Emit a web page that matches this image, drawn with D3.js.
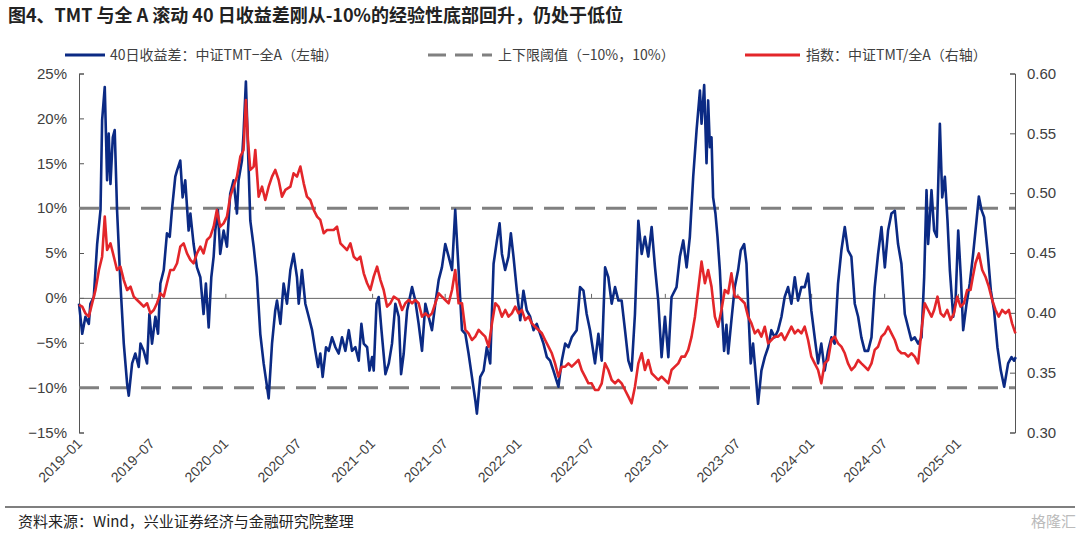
<!DOCTYPE html>
<html><head><meta charset="utf-8">
<script src="https://cdn.jsdelivr.net/npm/d3@7"></script>
<style>body{margin:0;background:#fff}svg{font-family:"Noto Sans CJK SC","Liberation Sans",sans-serif}</style>
</head><body><svg id="c" width="1080" height="534"></svg>
<script>
// decimal years
const spreadDates=[2019.00,2019.022,2019.044,2019.067,2019.078,2019.101,2019.124,2019.147,2019.158,2019.176,2019.192,2019.203,2019.215,2019.231,2019.244,2019.260,2019.283,2019.306,2019.329,2019.340,2019.363,2019.385,2019.408,2019.420,2019.442,2019.465,2019.481,2019.499,2019.522,2019.540,2019.556,2019.579,2019.601,2019.620,2019.635,2019.658,2019.670,2019.692,2019.708,2019.726,2019.749,2019.761,2019.783,2019.806,2019.829,2019.851,2019.867,2019.886,2019.904,2019.920,2019.931,2019.949,2019.965,2019.988,2020.011,2020.033,2020.056,2020.079,2020.090,2020.113,2020.124,2020.140,2020.154,2020.170,2020.193,2020.215,2020.238,2020.261,2020.284,2020.295,2020.318,2020.340,2020.352,2020.375,2020.397,2020.420,2020.443,2020.465,2020.488,2020.500,2020.522,2020.545,2020.568,2020.591,2020.613,2020.632,2020.647,2020.663,2020.686,2020.704,2020.727,2020.750,2020.772,2020.795,2020.818,2020.841,2020.863,2020.886,2020.909,2020.927,2020.943,2020.966,2020.982,2021.000,2021.011,2021.030,2021.045,2021.064,2021.091,2021.114,2021.136,2021.159,
2021.182,2021.198,2021.216,2021.239,2021.273,2021.295,2021.318,2021.341,2021.364,2021.386,2021.409,2021.432,2021.455,2021.477,2021.500,2021.523,2021.546,2021.568,2021.591,2021.614,2021.637,2021.659,2021.682,2021.705,2021.716,2021.739,2021.762,2021.784,2021.807,2021.830,2021.853,2021.871,2021.887,2021.909,2021.932,2021.948,2021.966,2021.989,2022.012,2022.034,2022.057,2022.080,2022.103,2022.125,2022.148,2022.171,2022.194,2022.216,2022.239,2022.273,2022.296,2022.319,2022.341,2022.364,2022.398,2022.421,2022.444,2022.466,2022.489,2022.523,2022.546,2022.569,2022.592,2022.614,2022.637,2022.660,2022.683,2022.705,2022.728,2022.751,2022.773,2022.796,2022.819,2022.842,2022.864,2022.887,2022.910,2022.933,2022.955,2022.978,2023.001,2023.024,2023.046,2023.080,2023.103,2023.126,2023.149,2023.171,2023.194,2023.217,2023.240,
2023.251,2023.269,2023.285,2023.296,2023.308,2023.319,2023.330,2023.346,2023.360,2023.376,2023.387,2023.405,2023.421,2023.433,2023.455,2023.478,2023.501,2023.519,2023.542,2023.558,2023.569,2023.587,2023.603,2023.619,2023.637,2023.660,2023.683,2023.706,2023.728,2023.751,2023.774,2023.797,2023.819,2023.842,2023.865,2023.888,2023.910,2023.933,2023.956,2023.979,2024.001,2024.024,2024.047,2024.069,2024.092,2024.115,2024.138,2024.160,2024.183,2024.206,2024.229,2024.251,2024.274,2024.297,2024.320,2024.342,2024.365,2024.388,2024.411,2024.433,2024.456,2024.479,2024.502,2024.524,2024.547,2024.570,2024.592,2024.615,2024.638,2024.661,2024.683,2024.706,2024.729,2024.752,2024.770,2024.786,2024.797,2024.820,2024.838,2024.856,2024.877,2024.893,2024.911,2024.929,2024.945,2024.968,2024.984,2025.002,2025.020,2025.036,2025.059,2025.081,2025.104,2025.127,2025.143,2025.161,2025.179,2025.202,2025.225,2025.247,2025.270,2025.293,2025.316,2025.343,2025.366,2025.384,2025.395];
const spreadValues=[-0.65,-4.0,-2.1,-2.9,-0.65,0.1,6.0,9.8,19.8,23.5,13.1,18.3,12.7,17.9,18.7,9.8,1.6,-5.1,-9.6,-10.9,-7.3,-6.2,-7.7,-5.1,-5.9,-7.3,-1.8,-5.1,-2.1,-4.0,1.6,3.1,7.2,6.8,9.8,13.5,14.2,15.3,11.2,13.1,7.5,9.4,6.0,3.4,2.3,-1.8,1.6,-3.3,2.3,4.6,7.5,9.8,4.9,7.5,5.7,11.6,13.1,9.4,13.1,15.3,18.3,24.1,16.8,8.6,5.7,2.3,-4.0,-7.3,-9.9,-11.2,-5.1,-1.4,-0.3,-2.9,1.6,-0.65,3.1,4.9,2.3,-0.65,3.1,-0.65,-2.1,-3.6,-5.9,-7.7,-6.2,-8.8,-5.5,-5.9,-4.4,-5.5,-6.2,-4.4,-5.9,-3.6,-5.9,-5.5,-7.0,-2.9,-5.1,-5.5,-8.1,-6.6,-8.1,-0.65,0.1,-3.6,-8.5,-7.3,-5.1,-0.65,
-2.1,-8.5,-6.2,-1.4,1.2,-0.3,-2.9,-5.9,-0.65,-2.1,-3.6,-0.65,2.0,3.4,6.0,4.6,3.1,9.8,3.1,-3.6,-4.0,-6.2,-8.8,-11.4,-12.9,-8.8,-8.1,-5.5,-7.3,3.8,6.4,8.3,4.9,3.1,4.6,7.2,4.6,0.8,-2.5,0.8,-1.4,-2.1,-3.6,-2.9,-4.0,-5.1,-6.6,-7.0,-8.1,-9.9,-7.0,-5.1,-5.5,-4.4,-3.6,1.2,0.8,-1.8,-3.6,-7.3,-4.0,-7.0,3.4,2.3,-0.65,1.2,-0.3,-0.3,-3.6,-7.0,-8.1,-1.8,8.6,4.9,6.8,4.6,7.9,3.4,-0.3,-6.6,-2.1,-6.6,0.1,1.2,4.6,6.4,3.4,6.8,13.5,18.7,23.1,
19.4,23.7,15.0,22.0,16.8,17.9,11.2,9.4,6.8,3.1,-0.65,-5.9,-3.0,-6.2,-2.5,1.2,3.1,5.3,6.0,3.8,-0.65,-7.3,-5.1,-8.1,-11.8,-8.1,-6.6,-5.5,-3.6,-4.4,-3.6,-2.1,0.1,1.2,-0.65,2.3,-0.3,1.2,1.2,2.7,-1.4,-4.4,-7.3,-5.1,-8.1,-5.9,-4.4,-5.1,1.6,5.3,7.9,5.3,4.6,-0.65,-2.1,-4.4,-5.9,-5.9,-4.4,1.2,4.9,7.9,3.4,7.5,9.4,9.7,6.0,3.8,-1.8,-3.3,-4.7,-4.4,-5.1,-4.4,2.3,12.0,6.0,12.0,7.5,6.8,19.4,11.2,13.5,8.6,3.1,-2.1,-0.3,7.5,2.3,-3.6,-0.65,1.6,4.9,8.6,11.3,9.8,9.0,5.3,0.8,-1.4,-5.5,-8.1,-9.9,-7.3,-6.6,-7.0,-6.6,-6.2];
const indexDates=[2019.00,2019.022,2019.044,2019.067,2019.090,2019.113,2019.136,2019.158,2019.176,2019.192,2019.215,2019.238,2019.260,2019.283,2019.306,2019.329,2019.352,2019.374,2019.397,2019.420,2019.442,2019.465,2019.488,2019.511,2019.533,2019.556,2019.579,2019.601,2019.624,2019.647,2019.670,2019.692,2019.715,2019.738,2019.761,2019.783,2019.806,2019.829,2019.851,2019.874,2019.897,2019.920,2019.942,2019.965,2019.988,2020.011,2020.033,2020.056,2020.079,2020.102,2020.124,2020.140,2020.154,2020.170,2020.193,2020.204,2020.227,2020.250,2020.272,2020.295,2020.318,2020.340,2020.363,2020.386,2020.409,2020.443,2020.465,2020.488,2020.511,2020.534,2020.556,2020.579,2020.602,2020.625,2020.647,2020.670,2020.693,2020.716,2020.738,2020.761,2020.784,2020.806,2020.829,2020.852,2020.875,2020.897,2020.920,2020.943,2020.966,2020.988,2021.011,2021.034,2021.057,2021.079,2021.102,2021.125,2021.148,
2021.182,2021.205,2021.227,2021.250,2021.273,2021.295,2021.318,2021.341,2021.364,2021.386,2021.409,2021.432,2021.455,2021.477,2021.500,2021.523,2021.546,2021.568,2021.591,2021.614,2021.637,2021.659,2021.682,2021.705,2021.728,2021.750,2021.773,2021.796,2021.819,2021.842,2021.864,2021.887,2021.910,2021.932,2021.955,2021.978,2022.001,2022.023,2022.046,2022.069,2022.091,2022.114,2022.137,2022.160,2022.182,2022.205,2022.228,2022.250,2022.273,2022.296,2022.319,2022.341,2022.364,2022.387,2022.410,2022.432,2022.455,2022.478,2022.500,2022.523,2022.546,2022.569,2022.591,2022.614,2022.637,2022.660,2022.682,2022.705,2022.728,2022.751,2022.773,2022.796,2022.819,2022.842,2022.864,2022.887,2022.910,2022.933,2022.955,2022.978,2023.001,2023.024,2023.046,2023.069,2023.092,2023.114,2023.137,2023.160,2023.183,2023.206,2023.228,
2023.251,2023.274,2023.296,2023.319,2023.342,2023.364,2023.387,2023.410,2023.433,2023.455,2023.478,2023.501,2023.524,2023.546,2023.569,2023.592,2023.615,2023.637,2023.660,2023.683,2023.706,2023.728,2023.751,2023.774,2023.797,2023.819,2023.842,2023.865,2023.888,2023.910,2023.933,2023.956,2023.979,2024.001,2024.024,2024.047,2024.069,2024.092,2024.115,2024.138,2024.160,2024.183,2024.206,2024.229,2024.251,2024.274,2024.297,2024.320,2024.342,2024.365,2024.388,2024.411,2024.433,2024.456,2024.479,2024.502,2024.524,2024.547,2024.570,2024.592,2024.615,2024.638,2024.661,2024.683,2024.706,2024.729,2024.752,2024.774,2024.797,2024.820,2024.838,2024.861,2024.882,2024.904,2024.927,2024.950,2024.973,2024.995,2025.018,2025.041,2025.063,2025.086,2025.102,2025.120,2025.143,2025.166,2025.188,2025.211,2025.234,2025.257,2025.279,2025.302,2025.325,2025.348,2025.370,2025.393];
const indexValues=[0.4067,0.4052,0.3996,0.3968,0.4080,0.4192,0.4358,0.4469,0.4804,0.4525,0.4581,0.4469,0.4358,0.4386,0.4274,0.4191,0.4219,0.4135,0.4107,0.4080,0.4052,0.4080,0.3996,0.4024,0.4080,0.4163,0.4135,0.4247,0.4358,0.4358,0.4414,0.4553,0.4581,0.4497,0.4442,0.4414,0.4497,0.4553,0.4497,0.4609,0.4637,0.4720,0.4860,0.4720,0.4748,0.4804,0.4971,0.5054,0.5138,0.5305,0.5361,0.5779,0.5444,0.5194,0.5222,0.5361,0.4971,0.5054,0.4943,0.5054,0.5138,0.5194,0.5110,0.4971,0.5027,0.5054,0.5166,0.5138,0.5222,0.5082,0.4971,0.4943,0.4860,0.4804,0.4776,0.4665,0.4692,0.4692,0.4692,0.4720,0.4581,0.4553,0.4525,0.4581,0.4469,0.4442,0.4469,0.4330,0.4247,0.4191,0.4302,0.4386,0.4274,0.4191,0.4052,0.4080,0.4135,
0.4107,0.4024,0.4080,0.4107,0.4080,0.4107,0.4080,0.3968,0.3996,0.3968,0.3996,0.4080,0.4163,0.4135,0.4107,0.4080,0.4191,0.4358,0.4080,0.4080,0.3857,0.3829,0.3773,0.3801,0.3857,0.3829,0.3801,0.3717,0.3912,0.4080,0.4052,0.3968,0.4024,0.3968,0.3996,0.4052,0.3996,0.4024,0.3940,0.3968,0.3912,0.3884,0.3857,0.3829,0.3773,0.3717,0.3662,0.3578,0.3467,0.3550,0.3550,0.3578,0.3550,0.3578,0.3606,0.3522,0.3467,0.3411,0.3411,0.3355,0.3355,0.3411,0.3578,0.3522,0.3439,0.3411,0.3439,0.3411,0.3355,0.3300,0.3244,0.3383,0.3578,0.3662,0.3522,0.3606,0.3495,0.3467,0.3439,0.3467,0.3439,0.3411,0.3522,0.3550,0.3578,0.3634,0.3634,0.3690,0.3801,0.3968,0.4191,
0.4428,0.4247,0.4358,0.4219,0.3968,0.3884,0.4024,0.4191,0.4163,0.4330,0.4135,0.4135,0.4107,0.4080,0.3968,0.3912,0.3829,0.3857,0.3801,0.3884,0.3745,0.3773,0.3801,0.3801,0.3829,0.3773,0.3829,0.3884,0.3829,0.3857,0.3829,0.3884,0.3773,0.3634,0.3578,0.3522,0.3411,0.3578,0.3606,0.3773,0.3801,0.3745,0.3717,0.3662,0.3578,0.3522,0.3550,0.3606,0.3578,0.3550,0.3522,0.3578,0.3690,0.3717,0.3801,0.3829,0.3884,0.3829,0.3773,0.3690,0.3662,0.3662,0.3634,0.3662,0.3634,0.3578,0.3857,0.4080,0.4024,0.3968,0.4024,0.4135,0.3996,0.3968,0.4024,0.3940,0.3996,0.4135,0.4052,0.4080,0.4191,0.4191,0.4302,0.4414,0.4497,0.4358,0.4302,0.4219,0.4107,0.4024,0.3968,0.4024,0.3996,0.4024,0.3912,0.3829];
const leftTicks=[25,20,15,10,5,0,-5,-10,-15];
const rightTicks=[0.60,0.55,0.50,0.45,0.40,0.35,0.30];
const xTickLabels=["2019-01","2019-07","2020-01","2020-07","2021-01","2021-07","2022-01","2022-07","2023-01","2023-07","2024-01","2024-07","2025-01"];
const thresholds=[10,-10];

const toDate=y=>{const yr=Math.floor(y);const s=new Date(yr,0,1),e=new Date(yr+1,0,1);return new Date(+s+(y-yr)*(e-s));};
const svg=d3.select("#c");
const L=79,R=1015,T=73.5,B=432.5;
const x=d3.scaleTime().domain([new Date(2019,0,1),toDate(2025.39)]).range([L,R]);
const yL=d3.scaleLinear().domain([-15,25]).range([B,T]);
const yR=d3.scaleLinear().domain([0.30,0.60]).range([B,T]);
const txt="#404040";

svg.append("text").attr("x",8).attr("y",22).attr("font-size",18).attr("font-weight","bold").attr("fill","#222")
 .text("图4、TMT 与全 A 滚动 40 日收益差刚从-10%的经验性底部回升，仍处于低位");

// legend
const lg=svg.append("g").attr("font-size",14).attr("fill",txt);
lg.append("line").attr("x1",65).attr("x2",105).attr("y1",55).attr("y2",55).attr("stroke","#0b2a84").attr("stroke-width",3);
lg.append("text").attr("x",110).attr("y",60).attr("fill",txt).text("40日收益差：中证TMT−全A（左轴）");
lg.append("line").attr("x1",428).attr("x2",492).attr("y1",55).attr("y2",55).attr("stroke","#808080").attr("stroke-width",3).attr("stroke-dasharray","18,9");
lg.append("text").attr("x",498).attr("y",60).attr("fill",txt).text("上下限阈值（−10%，10%）");
lg.append("line").attr("x1",745).attr("x2",800).attr("y1",55).attr("y2",55).attr("stroke","#e3262a").attr("stroke-width",3);
lg.append("text").attr("x",806).attr("y",60).attr("fill",txt).text("指数：中证TMT/全A（右轴）");

// left axis
const ax=svg.append("g").attr("transform",`translate(${L},0)`).call(d3.axisLeft(yL).tickValues(leftTicks).tickSize(-5).tickPadding(12).tickFormat(d=>(d<0?"−"+(-d):d)+"%"));
const ar=svg.append("g").attr("transform",`translate(${R},0)`).call(d3.axisRight(yR).tickValues(rightTicks).tickSize(-5).tickPadding(12).tickFormat(d3.format(".2f")));
[ax,ar].forEach(a=>{a.select(".domain").attr("stroke","#555");a.selectAll(".tick line").attr("stroke","#555");a.selectAll("text").attr("font-size",15).attr("fill",txt).attr("font-family","Liberation Sans, sans-serif");});

// zero line & x axis
const xa=svg.append("g").attr("transform",`translate(0,${yL(0)})`).call(d3.axisTop(x).tickValues(xTickLabels.map(s=>new Date(+s.slice(0,4),+s.slice(5)-1,1))).tickSize(4).tickFormat(""));
xa.select(".domain").attr("stroke","#666");xa.selectAll(".tick line").attr("stroke","#666");
svg.append("g").selectAll("text").data(xTickLabels).join("text")
 .attr("transform",d=>`translate(${x(new Date(+d.slice(0,4),+d.slice(5)-1,1))+4},${B+12}) rotate(-45)`)
 .attr("text-anchor","end").attr("font-size",14).attr("fill",txt).attr("font-family","Liberation Sans, sans-serif").text(d=>d.replace("-","−"));

// thresholds
svg.append("g").selectAll("line").data(thresholds).join("line").attr("x1",L).attr("x2",R)
 .attr("y1",d=>yL(d)).attr("y2",d=>yL(d)).attr("stroke","#808080").attr("stroke-width",3).attr("stroke-dasharray","20,11");

const sp=spreadDates.map((d,i)=>[toDate(d),spreadValues[i]]);
const ix=indexDates.map((d,i)=>[toDate(d),indexValues[i]]);
svg.append("path").datum(sp).attr("fill","none").attr("stroke","#0b2a84").attr("stroke-width",2.6).attr("stroke-linejoin","round")
 .attr("d",d3.line().x(d=>x(d[0])).y(d=>yL(d[1])));
svg.append("path").datum(ix).attr("fill","none").attr("stroke","#e3262a").attr("stroke-width",2.6).attr("stroke-linejoin","round")
 .attr("d",d3.line().x(d=>x(d[0])).y(d=>yR(d[1])));

// footer
svg.append("line").attr("x1",5).attr("x2",1075).attr("y1",507).attr("y2",507).attr("stroke","#555").attr("stroke-width",1.5);
svg.append("text").attr("x",18).attr("y",527).attr("font-size",15).attr("fill","#222").text("资料来源：Wind，兴业证券经济与金融研究院整理");
svg.append("text").attr("x",1076).attr("y",527).attr("text-anchor","end").attr("font-size",15).attr("fill","#bbb").text("格隆汇");
</script></body></html>
